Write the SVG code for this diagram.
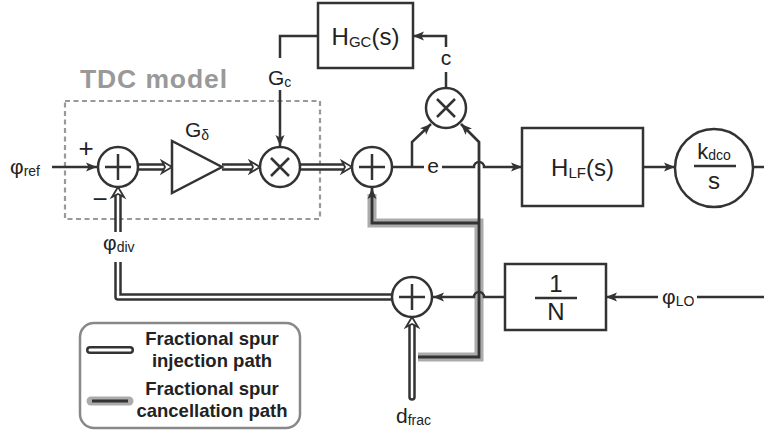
<svg xmlns="http://www.w3.org/2000/svg" xmlns:xlink="http://www.w3.org/1999/xlink" width="764" height="432" viewBox="0 0 764 432">
<defs>
<style>
.ln{fill:none;stroke:#333;stroke-width:2.5}
.ar{marker-end:url(#arr)}
.nd{fill:#fff;stroke:#333;stroke-width:2.5}
.sym{fill:none;stroke:#333;stroke-width:2.5}
.dblo{fill:none;stroke:#333;stroke-width:7.5;stroke-linejoin:round}
.dbli{fill:none;stroke:#fff;stroke-width:2.5;stroke-linejoin:round}
.halo{fill:none;stroke:#ababab;stroke-width:9;stroke-linejoin:miter}
.core{fill:none;stroke:#333;stroke-width:2.8}
.chev{fill:#fff;stroke:#333;stroke-width:1.8;stroke-linejoin:miter}
text{font-family:"Liberation Sans",Arial,sans-serif;fill:#222}
.lbl{font-size:21px}
.blk{font-size:24px}
.sub{font-size:14px}
.leg{font-size:18.5px;font-weight:bold;text-anchor:middle}
</style>
<marker id="arr" viewBox="0 0 11 10" refX="11" refY="5" markerWidth="11" markerHeight="10" markerUnits="userSpaceOnUse" orient="auto">
<path d="M0,0.5 L11,5 L0,9.5 L2.5,5 Z" fill="#333"/>
</marker>
<path id="chev" d="M0,0 L-10,-6 L-7,0 L-10,6 Z"/>
</defs>
<rect width="764" height="432" fill="#fff"/>

<g id="tdc-box">
<rect x="65" y="101" width="255" height="118" fill="none" stroke="#999" stroke-width="2.2" stroke-dasharray="5 3.5"/>
<text x="80" y="88" font-size="26.5" font-weight="bold" style="fill:#999" textLength="147" lengthAdjust="spacing">TDC model</text>
</g>

<g id="connectors">
<path class="halo" d="M418,357 H479 V223 H372 V194"/>
<path class="dblo" d="M138,167 H164"/><path class="dbli" d="M138,167 H164"/>
<path class="dblo" d="M222,167 H252"/><path class="dbli" d="M222,167 H252"/>
<path class="dblo" d="M300,167 H344"/><path class="dbli" d="M300,167 H344"/>
<path class="dblo" d="M392,297 H118 V262"/><path class="dbli" d="M392,297 H118 V262"/>
<path class="dblo" d="M118,232 V195"/><path class="dbli" d="M118,232 V195"/>
<path class="dblo" d="M412,397 V325" stroke-linecap="round"/><path class="dbli" d="M412,397 V325" stroke-linecap="round"/>
<use href="#chev" class="chev" transform="translate(172,167)"/>
<use href="#chev" class="chev" transform="translate(260,167)"/>
<use href="#chev" class="chev" transform="translate(352,167)"/>
<use href="#chev" class="chev" transform="translate(118,187) rotate(-90)"/>
<use href="#chev" class="chev" transform="translate(412,317) rotate(-90)"/>
<path class="ln ar" d="M52,167 H97"/>
<path class="ln" d="M318,36 H280 V58"/>
<path class="ln ar" d="M280,90 V146"/>
<path class="ln" d="M446,88 V72"/>
<path class="ln ar" d="M446,47 V36 H413"/>
<path class="ln ar" d="M412,167 V142 L431,124"/>
<path class="ln" d="M392,167 H424"/>
<path class="ln ar" d="M442,167 H474 A5,5 0 0 1 484,167 H522"/>
<path class="ln ar" d="M643,167 H675"/>
<path class="ln" d="M753,167 H764"/>
<path class="ln" d="M764,297 H697"/>
<path class="ln ar" d="M658,297 H606"/>
<path class="ln ar" d="M505,297 H484 A5,5 0 0 0 474,297 H433"/>
<path class="core ar" d="M418,357 H479 V142 L461,124"/>
<path class="core ar" d="M479,223 H372 V188"/>
</g>

<g id="phi-ref">
<text class="lbl" x="10" y="174">φ<tspan class="sub" dy="2">ref</tspan></text>
</g>

<g id="sum1">
<circle class="nd" cx="118" cy="167" r="20"/>
<path class="sym" d="M105,167 H131 M118,154 V180"/>
<text x="86" y="157" font-size="26" text-anchor="middle">+</text>
<text x="100" y="208" font-size="26" text-anchor="middle">−</text>
</g>

<g id="gain-delta">
<polygon class="nd" points="172,141 172,193 222,167"/>
<text class="lbl" x="185" y="137">G<tspan class="sub" dy="3">δ</tspan></text>
</g>

<g id="mult1">
<circle class="nd" cx="280" cy="167" r="20"/>
<path class="sym" d="M271,158 L289,176 M289,158 L271,176"/>
<text class="lbl" x="268" y="85">G<tspan class="sub" dy="2">c</tspan></text>
</g>

<g id="hgc">
<rect class="nd" x="318" y="3" width="95" height="65"/>
<text class="blk" x="365.5" y="45" text-anchor="middle">H<tspan font-size="15" dy="2">GC</tspan><tspan dy="-2">(s)</tspan></text>
</g>

<g id="sum2">
<circle class="nd" cx="372" cy="167" r="20"/>
<path class="sym" d="M359,167 H385 M372,154 V180"/>
<text class="lbl" x="433" y="173" text-anchor="middle">e</text>
</g>

<g id="mult2">
<circle class="nd" cx="446" cy="108" r="20"/>
<path class="sym" d="M437,99 L455,117 M455,99 L437,117"/>
<text class="lbl" x="446" y="65" text-anchor="middle">c</text>
</g>

<g id="hlf">
<rect class="nd" x="522" y="128" width="121" height="78"/>
<text class="blk" x="582.5" y="176" text-anchor="middle">H<tspan font-size="15" dy="2">LF</tspan><tspan dy="-2">(s)</tspan></text>
</g>

<g id="dco">
<circle class="nd" cx="714" cy="168" r="39"/>
<text x="714" y="159" font-size="22" text-anchor="middle">k<tspan class="sub" dy="1">dco</tspan></text>
<path class="sym" d="M694,166 H736"/>
<text class="blk" x="714" y="189" text-anchor="middle">s</text>
</g>

<g id="divider">
<rect class="nd" x="505" y="264" width="101" height="66"/>
<text class="blk" x="556" y="292" text-anchor="middle">1</text>
<path class="sym" d="M535,298 H577"/>
<text class="blk" x="556" y="320" text-anchor="middle">N</text>
</g>

<g id="phi-lo">
<text class="lbl" x="662" y="304">φ<tspan class="sub" dy="2">LO</tspan></text>
</g>

<g id="sum3">
<circle class="nd" cx="412" cy="297" r="20"/>
<path class="sym" d="M399,297 H425 M412,284 V310"/>
</g>

<g id="phi-div">
<text class="lbl" x="103" y="250">φ<tspan class="sub" dy="2">div</tspan></text>
</g>

<g id="dfrac">
<text class="lbl" x="396" y="423">d<tspan class="sub" dy="2">frac</tspan></text>
</g>

<g id="legend">
<rect x="80" y="323" width="220" height="105" rx="14" fill="#fff" stroke="#888" stroke-width="2.5"/>
<path d="M90,350 H130" stroke="#333" stroke-width="8" stroke-linecap="round" fill="none"/>
<path d="M90,350 H130" stroke="#fff" stroke-width="3" stroke-linecap="round" fill="none"/>
<path d="M91,401 H129" stroke="#ababab" stroke-width="9" stroke-linecap="round" fill="none"/>
<path d="M92,401 H128" stroke="#333" stroke-width="3" fill="none"/>
<text class="leg" x="212" y="345">Fractional spur</text>
<text class="leg" x="212" y="367">injection path</text>
<text class="leg" x="212" y="395">Fractional spur</text>
<text class="leg" x="212" y="417">cancellation path</text>
</g>
</svg>
